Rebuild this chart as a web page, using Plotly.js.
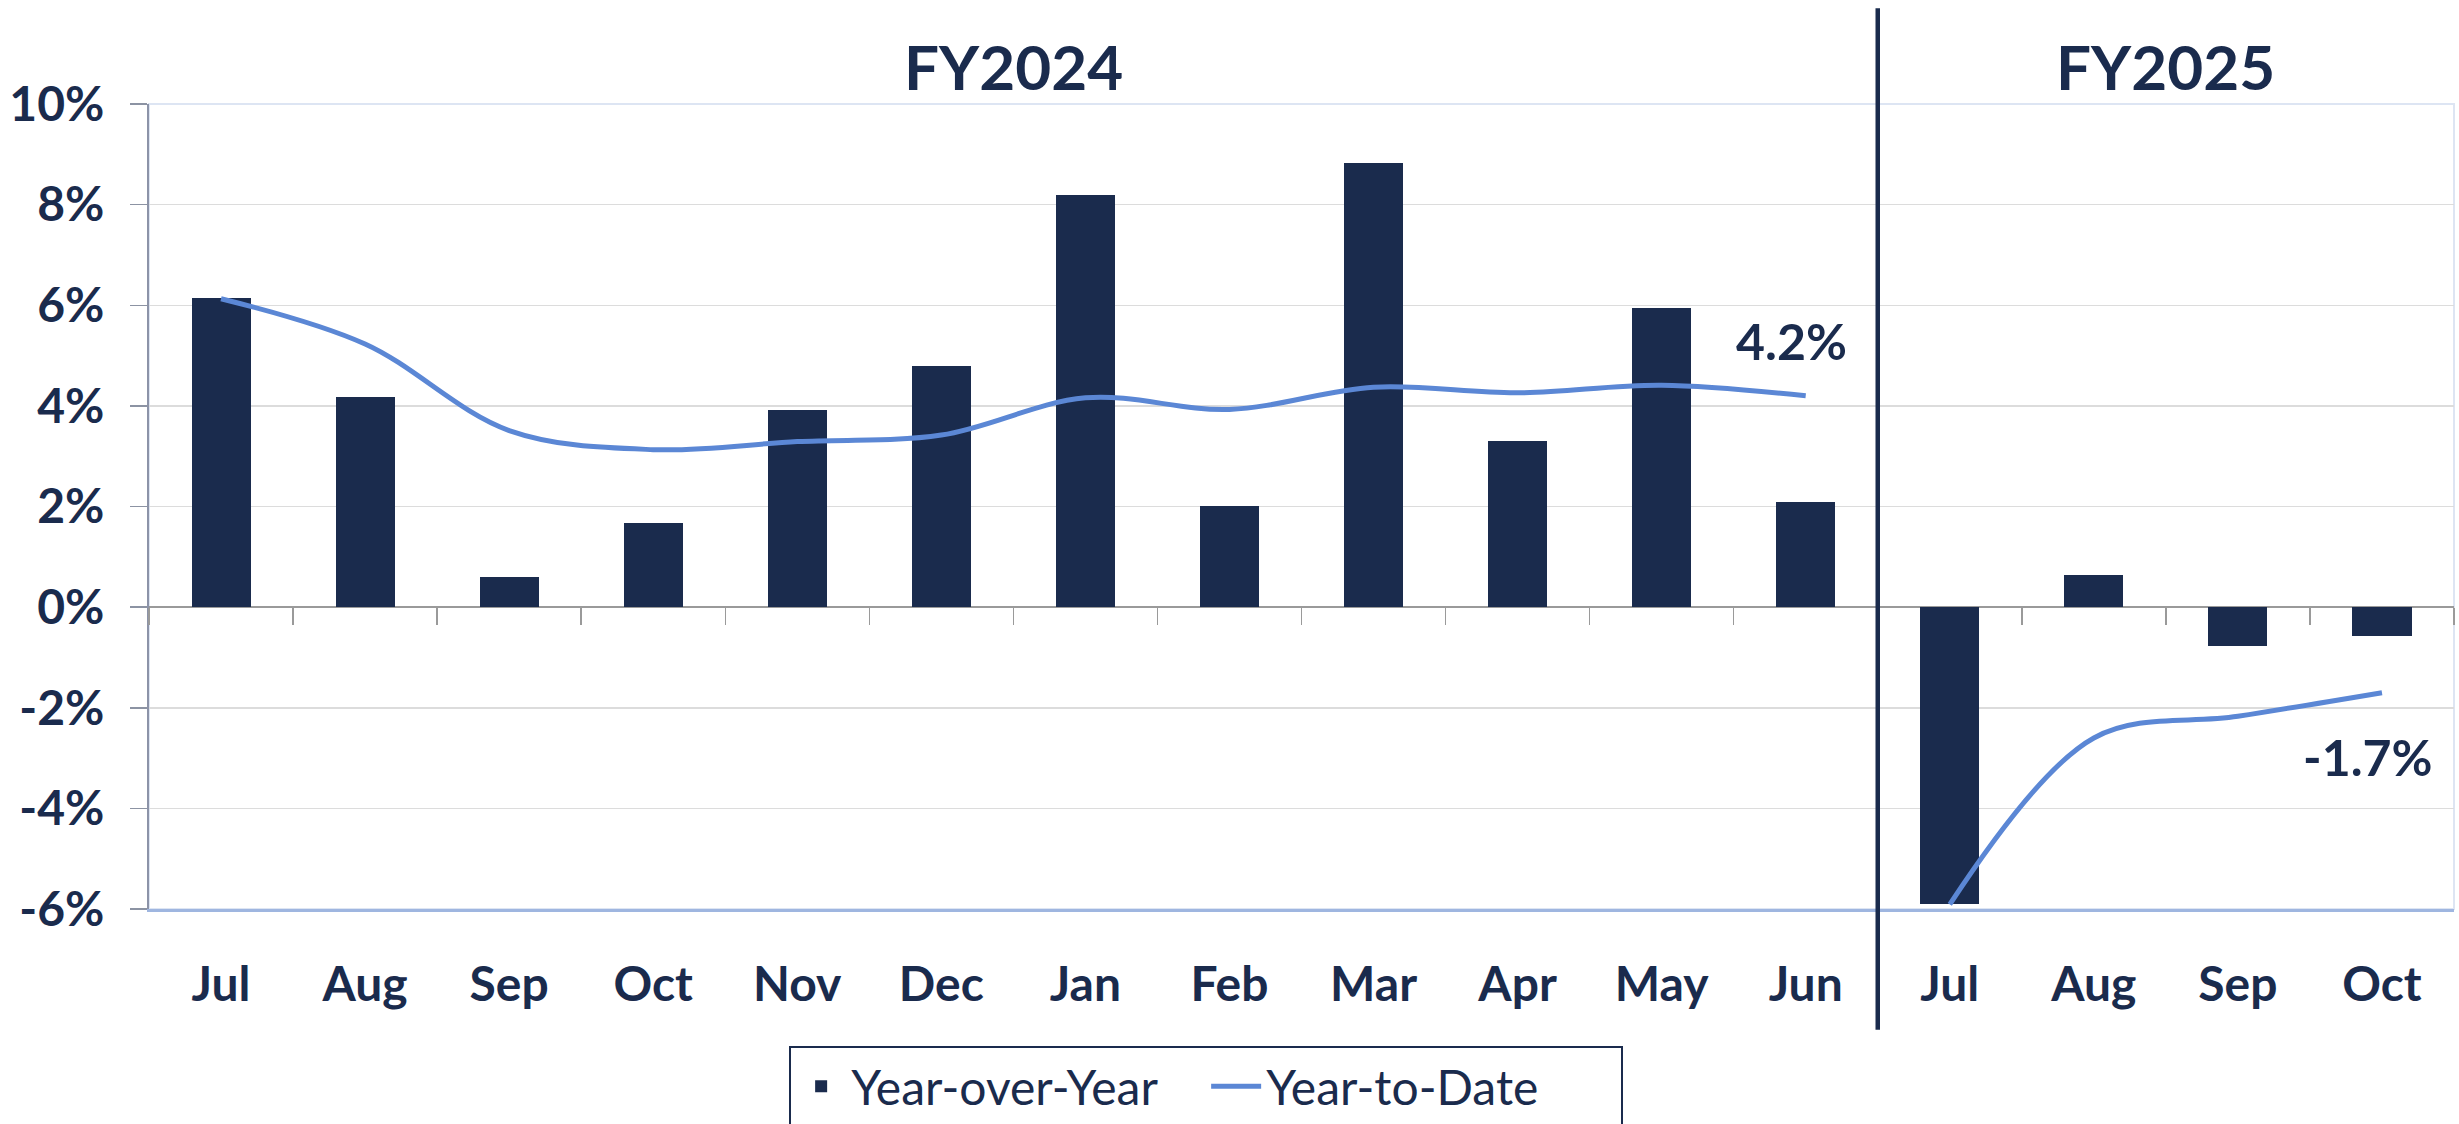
<!DOCTYPE html>
<html>
<head>
<meta charset="utf-8">
<script src="https://cdn.plot.ly/plotly-3.0.1.min.js"></script>
<style>
  html, body { margin: 0; padding: 0; background: #ffffff; }
  #chart { width: 2459px; height: 1124px; }
</style>
</head>
<body>
<div id="chart"></div>
<script>
// ---- data ----
const monthLabels = ["Jul","Aug","Sep","Oct","Nov","Dec","Jan","Feb","Mar","Apr","May","Jun","Jul","Aug","Sep","Oct"];
const fiscalYears = ["FY2024","FY2024","FY2024","FY2024","FY2024","FY2024","FY2024","FY2024","FY2024","FY2024","FY2024","FY2024","FY2025","FY2025","FY2025","FY2025"];
const yearOverYear = [6.15, 4.17, 0.59, 1.67, 3.92, 4.80, 8.19, 2.01, 8.82, 3.30, 5.95, 2.09, -5.91, 0.64, -0.78, -0.58];
const yearToDate   = [6.13, 5.23, 3.51, 3.13, 3.29, 3.42, 4.16, 3.93, 4.37, 4.26, 4.41, 4.20, -5.91, -2.60, -2.17, -1.70];
const yTicks = [-6, -4, -2, 0, 2, 4, 6, 8, 10];

// ---- derived positions ----
const xIdx = monthLabels.map((_, i) => i);
const navy = "#1a2b4d";
const lineBlue = "#5b87d5";
const fontFam = "Lato, 'Open Sans', sans-serif";

// YTD line broken between fiscal years
const ytdX = [], ytdY = [];
xIdx.forEach((x, i) => {
  if (i > 0 && fiscalYears[i] !== fiscalYears[i-1]) { ytdX.push(x - 0.5); ytdY.push(null); }
  ytdX.push(x); ytdY.push(yearToDate[i]);
});

// fiscal year groups
const fyNames = [...new Set(fiscalYears)];
const fyCenters = fyNames.map(n => {
  const ids = xIdx.filter(i => fiscalYears[i] === n);
  return (ids[0] + ids[ids.length-1]) / 2;
});
const fyBoundaries = [];
for (let i = 1; i < fiscalYears.length; i++) if (fiscalYears[i] !== fiscalYears[i-1]) fyBoundaries.push(i - 0.5);
const lastOf = fyNames.map(n => { const ids = xIdx.filter(i => fiscalYears[i] === n); return ids[ids.length-1]; });

const boundaryTicks = xIdx.concat([xIdx.length]).map(i => i - 0.5);

const traces = [
  {
    type: "bar", name: "Year-over-Year",
    x: xIdx, y: yearOverYear, width: 0.41,
    marker: { color: navy, line: { width: 0 } },
    hoverinfo: "skip"
  },
  {
    type: "scatter", mode: "lines", name: "Year-to-Date",
    x: ytdX, y: ytdY, connectgaps: false,
    line: { color: lineBlue, width: 5, shape: "spline", smoothing: 1 },
    hoverinfo: "skip"
  },
  {
    type: "scatter", mode: "lines", x: [], y: [], xaxis: "x2", showlegend: false, hoverinfo: "skip"
  }
];

const annotations = [];
fyNames.forEach((n, k) => {
  annotations.push({
    xref: "x", yref: "paper", x: fyCenters[k], y: 1, yshift: 38, yanchor: "middle",
    text: "<b>" + n + "</b>", showarrow: false,
    font: { family: fontFam, size: 62, color: navy }
  });
});
const endShifts = [[-14, 55], [-14, -64]];
lastOf.forEach((i, k) => {
  annotations.push({
    xref: "x", yref: "y", x: i, y: yearToDate[i],
    xshift: endShifts[k][0], yshift: endShifts[k][1],
    text: "<b>" + yearToDate[i].toFixed(1) + "%</b>", showarrow: false,
    font: { family: fontFam, size: 50, color: navy }
  });
});

const shapes = [
  { type: "rect", xref: "paper", yref: "paper", x0: 0, x1: 1, y0: 0, y1: 1,
    line: { color: "#dde5f3", width: 2 }, layer: "below" }
];
fyBoundaries.forEach(b => {
  shapes.push({ type: "line", xref: "x", yref: "paper", x0: b, x1: b, y0: -0.15, y1: 1.119,
    line: { color: navy, width: 4.5 } });
});

const yMin = yTicks[0], yMax = yTicks[yTicks.length-1];

const layout = {
  width: 2459, height: 1124,
  paper_bgcolor: "#ffffff", plot_bgcolor: "#ffffff",
  margin: { l: 149, r: 5, t: 104, b: 215 },
  showlegend: true,
  bargap: 0,
  font: { family: fontFam, color: navy },
  xaxis: {
    range: [-0.5, xIdx.length - 0.5],
    tickmode: "array", tickvals: xIdx, ticktext: monthLabels.map(m => "<b>" + m + "</b>"),
    tickfont: { family: fontFam, size: 48, color: navy },
    ticks: "", ticklabelstandoff: 32,
    showgrid: false, zeroline: false,
    showline: true, linecolor: "#9fb6e0", linewidth: 2.5
  },
  xaxis2: {
    overlaying: "x", anchor: "free",
    position: (0 - yMin) / (yMax - yMin),
    range: [-0.5, xIdx.length - 0.5],
    tickmode: "array", tickvals: boundaryTicks,
    ticks: "outside", ticklen: 17, tickwidth: 1.5, tickcolor: "#9a9a9a",
    showticklabels: false, showgrid: false, zeroline: false, showline: false
  },
  yaxis: {
    range: [yMin, yMax],
    tickmode: "array", tickvals: yTicks, ticktext: yTicks.map(v => "<b>" + v + "%</b>"),
    tickfont: { family: fontFam, size: 48, color: navy },
    ticks: "outside", ticklen: 17, tickwidth: 1.5, tickcolor: "#8c93a3",
    showgrid: true, gridcolor: "#dcdcdc", gridwidth: 1.5,
    zeroline: true, zerolinecolor: "#9a9a9a", zerolinewidth: 1.5,
    showline: true, linecolor: "#8c93a8", linewidth: 2,
    ticklabelstandoff: 16
  },
  legend: {
    orientation: "h",
    xref: "container", yref: "container",
    x: 0.4905, xanchor: "center", y: 0.069, yanchor: "top",
    bordercolor: navy, borderwidth: 2, bgcolor: "#ffffff",
    font: { family: fontFam, size: 48, color: navy },
    itemwidth: 50, entrywidth: 350, entrywidthmode: "pixels",
    traceorder: "normal"
  },
  annotations: annotations,
  shapes: shapes
};

Plotly.newPlot("chart", traces, layout, { displayModeBar: false, staticPlot: true });
</script>
</body>
</html>
